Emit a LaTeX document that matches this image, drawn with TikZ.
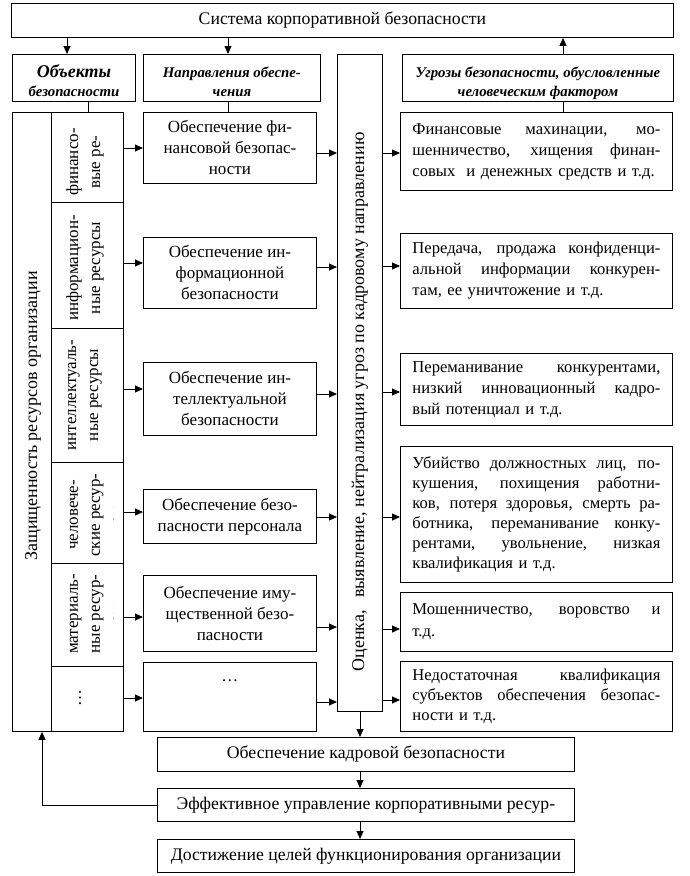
\documentclass[tikz,border=0pt]{standalone}
\usepackage{fontspec}
\setmainfont{Liberation Serif}
\usetikzlibrary{arrows.meta}
\newcommand\jl[1]{\makebox[248pt][s]{\spaceskip=0.25em plus 1fil\relax #1}}
\begin{document}
\begin{tikzpicture}[x=1pt,y=-1pt,
  box/.style={draw, line width=0.9pt, inner sep=0pt, anchor=north west},
  body/.style={font=\fontsize{17}{21}\selectfont},
  big/.style={font=\fontsize{17.7}{21}\selectfont},
  hdr/.style={font=\fontsize{14.8}{19}\selectfont\bfseries\itshape, align=center, minimum height=47pt, text height=41pt, text depth=3pt},
  cell/.style={rotate=90, align=center, inner sep=0pt, font=\fontsize{17}{22}\selectfont},
  thr/.style={box, font=\fontsize{16.6}{21}\selectfont, text width=248pt, align=left},
  mid/.style={box, body, align=center, minimum width=173pt},
  arr/.style={line width=0.9pt, -{Triangle[length=8pt,width=7pt]}},
  ln/.style={line width=0.9pt}]
\useasboundingbox (0,0) rectangle (690,876);
% top
\node[box, big, minimum width=662pt, minimum height=34pt] (sys) at (11,3) {Система корпоративной безопасности};
% headers
\node[box, hdr, minimum width=123pt] (hobj) at (12,54)
  {{\fontsize{18}{19}\selectfont Объекты}\\безопасности};
\node[box, hdr, minimum width=177pt] (hdir) at (143,54)
  {Направления обеспе-\\чения};
\node[box, minimum width=45pt, minimum height=657pt] (tall) at (337,54) {};
\node[box, hdr, minimum width=271pt] (hthr) at (402,54)
  {Угрозы безопасности, обусловленные\\человеческим фактором};
% left column
\node[box, minimum width=39pt, minimum height=619pt] (prot) at (12,112) {};
\node[box, minimum width=72pt, minimum height=90pt] (r1) at (51,112) {};
\node[box, minimum width=72pt, minimum height=126pt] (r2) at (51,202) {};
\node[box, minimum width=72pt, minimum height=134pt] (r3) at (51,328) {};
\node[box, minimum width=72pt, minimum height=101pt] (r4) at (51,462) {};
\node[box, minimum width=72pt, minimum height=103pt] (r5) at (51,563) {};
\node[box, minimum width=72pt, minimum height=65pt] (r6) at (51,666) {};
\node[cell, font=\fontsize{18}{22}\selectfont] (prottxt) at (33,416) {Защищенность ресурсов организации};
\begin{scope}
  \clip (52,113) rectangle (113.5,201);
  \node[cell] (r1txt) at (96,162) {финансо-\\вые ре-\\сурсы};
\end{scope}
\node[cell] (r2txt) at (85,268) {информацион-\\ные ресурсы};
\node[cell] (r3txt) at (85,395) {интеллектуаль-\\ные ресурсы};
\begin{scope}
  \clip (52,463) rectangle (113.5,562);
  \node[cell] (r4txt) at (96,515) {человече-\\ские ресур-\\сы};
\end{scope}
\begin{scope}
  \clip (52,564) rectangle (113.5,665);
  \node[cell] (r5txt) at (96,614) {материаль-\\ные ресур-\\сы};
\end{scope}
\node[cell] (r6txt) at (80,698) {\dots};
% tall text
\node[cell, font=\fontsize{18}{22}\selectfont] (talltxt) at (360,402)
  {Оценка,\hspace{8pt} выявление, нейтрализация угроз по кадровому направлению};
% middle
\node[mid, minimum height=71pt] (m1) at (143,112) {Обеспечение фи-\\нансовой безопас-\\ности};
\node[mid, minimum height=71pt] (m2) at (143,237) {Обеспечение ин-\\формационной\\безопасности};
\node[mid, minimum height=73pt] (m3) at (143,362) {Обеспечение ин-\\теллектуальной\\безопасности};
\node[mid, minimum height=54pt] (m4) at (143,489) {Обеспечение безо-\\пасности персонала};
\node[mid, minimum height=76pt] (m5) at (143,575) {Обеспечение иму-\\щественной безо-\\пасности};
\node[mid, minimum height=69pt, text height=10pt, text depth=40pt] (m6) at (143,662) {\dots};
% threats
\node[thr, minimum width=272pt, minimum height=78pt] (t1) at (400,112)
  {\jl{Финансовые махинации, мо-}\\\jl{шенничество, хищения финан-}\\\mbox{совых\ \ и денежных средств и т.д.}};
\node[thr, minimum width=272pt, minimum height=75pt] (t2) at (400,233)
  {\jl{Передача, продажа конфиденци-}\\\jl{альной информации конкурен-}\\там, ее уничтожение и т.д.};
\node[thr, minimum width=272pt, minimum height=72pt] (t3) at (400,353)
  {\jl{Переманивание конкурентами,}\\\jl{низкий инновационный кадро-}\\вый потенциал и т.д.};
\node[thr, minimum width=272pt, minimum height=136pt, font=\fontsize{16.6}{20}\selectfont] (t4) at (400,446)
  {\jl{Убийство должностных лиц, по-}\\\jl{кушения, похищения работни-}\\\jl{ков, потеря здоровья, смерть ра-}\\\jl{ботника, переманивание конку-}\\\jl{рентами, увольнение, низкая}\\квалификация и т.д.};
\node[thr, minimum width=272pt, minimum height=59pt, font=\fontsize{16.6}{22}\selectfont] (t5) at (400,592)
  {\jl{Мошенничество, воровство и}\\т.д.};
\node[thr, minimum width=272pt, minimum height=70pt, font=\fontsize{16.6}{20}\selectfont] (t6) at (400,661)
  {\jl{Недостаточная квалификация}\\\jl{субъектов обеспечения безопас-}\\ности и т.д.};
% bottom
\node[box, big, minimum width=417pt, minimum height=34pt] (kadr) at (157,737) {Обеспечение кадровой безопасности};
\node[box, big, minimum width=417pt, minimum height=33pt] (eff) at (157,788) {Эффективное управление корпоративными ресур-};
\node[box, big, minimum width=417pt, minimum height=33pt] (goal) at (157,839) {Достижение целей функционирования организации};
% connectors top
\draw[arr] (sys.south -| 67,0) -- (hobj.north -| 67,0);
\draw[arr] (sys.south -| 228,0) -- (hdir.north -| 228,0);
\draw[arr] (hthr.north -| 563,0) -- (sys.south -| 563,0);
\draw[ln] (hobj.south -| 88,0) -- (prot.north -| 88,0);
\draw[ln] (hdir.south -| 228,0) -- (m1.north -| 228,0);
\draw[ln] (hthr.south -| 563,0) -- (t1.north -| 563,0);
% rows to middle
\draw[arr] (r1.east |- 0,148) -- (m1.west |- 0,148);
\draw[arr] (r2.east |- 0,263) -- (m2.west |- 0,263);
\draw[arr] (r3.east |- 0,389) -- (m3.west |- 0,389);
\draw[arr] (r4.east |- 0,512) -- (m4.west |- 0,512);
\draw[arr] (r5.east |- 0,617) -- (m5.west |- 0,617);
\draw[arr] (r6.east |- 0,698) -- (m6.west |- 0,698);
% middle to tall
\draw[arr] (m1.east |- 0,153) -- (tall.west |- 0,153);
\draw[arr] (m2.east |- 0,267) -- (tall.west |- 0,267);
\draw[arr] (m3.east |- 0,394) -- (tall.west |- 0,394);
\draw[arr] (m4.east |- 0,517) -- (tall.west |- 0,517);
\draw[arr] (m5.east |- 0,627) -- (tall.west |- 0,627);
\draw[arr] (m6.east |- 0,702) -- (tall.west |- 0,702);
% tall to threats
\draw[arr] (tall.east |- 0,153) -- (t1.west |- 0,153);
\draw[arr] (tall.east |- 0,266) -- (t2.west |- 0,266);
\draw[arr] (tall.east |- 0,392) -- (t3.west |- 0,392);
\draw[arr] (tall.east |- 0,517) -- (t4.west |- 0,517);
\draw[arr] (tall.east |- 0,629) -- (t5.west |- 0,629);
\draw[arr] (tall.east |- 0,700) -- (t6.west |- 0,700);
% bottom chain
\draw[arr] (tall.south -| 360,0) -- (kadr.north -| 360,0);
\draw[arr] (kadr.south -| 360,0) -- (eff.north -| 360,0);
\draw[arr] (eff.south -| 360,0) -- (goal.north -| 360,0);
\draw[arr] (eff.west) -| (prot.south -| 42,0);
\end{tikzpicture}
\end{document}
